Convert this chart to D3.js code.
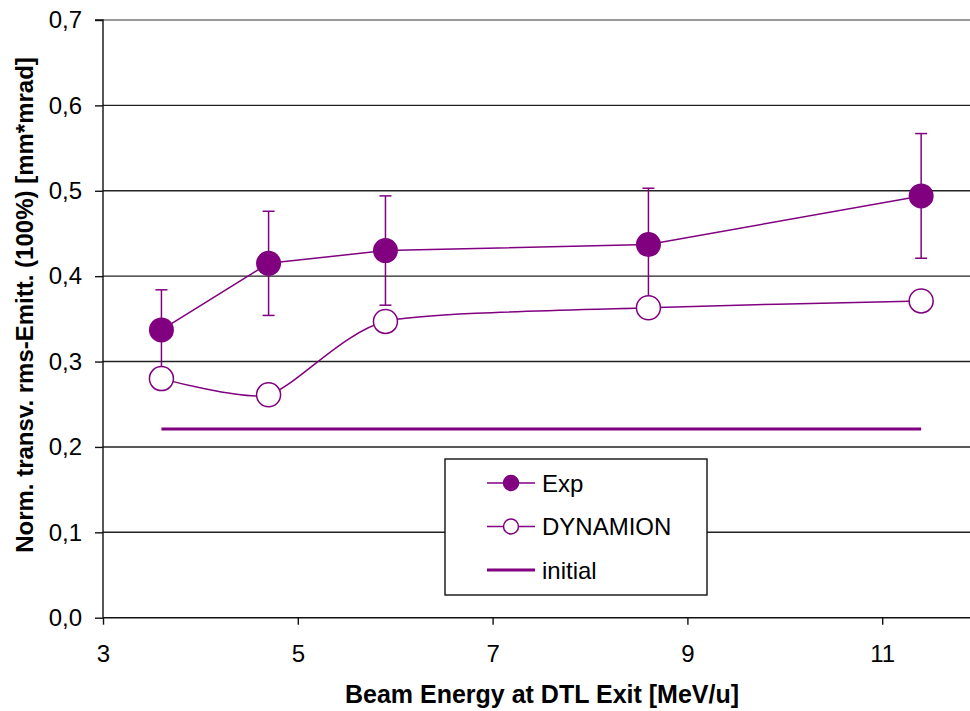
<!DOCTYPE html>
<html>
<head>
<meta charset="utf-8">
<script src="https://d3js.org/d3.v7.min.js"></script>
<style>
  body { margin: 0; background: #fff; }
  svg text { font-family: "Liberation Sans", Arial, sans-serif; }
</style>
</head>
<body>
<svg id="chart" width="970" height="711"></svg>
<script>
// data
const energy = [3.6, 4.7, 5.9, 8.6, 11.4];
const expValues = [0.337, 0.415, 0.430, 0.437, 0.494];
const expErrors = [0.047, 0.061, 0.064, 0.066, 0.073];
const dynamionValues = [0.280, 0.261, 0.347, 0.363, 0.371];
const initialValue = 0.221;
const xTicks = [3, 5, 7, 9, 11];
const yTicks = [0, 0.1, 0.2, 0.3, 0.4, 0.5, 0.6, 0.7];

const purple = '#800080';
const svg = d3.select('#chart');

const x = d3.scaleLinear().domain([3, 12]).range([103, 979.6]);
const y = d3.scaleLinear().domain([0, 0.7]).range([617.7, 20]);

// gridlines
svg.append('g')
   .selectAll('line')
   .data(yTicks.slice(1))
   .enter().append('line')
   .attr('x1', x(3)).attr('x2', 970)
   .attr('y1', d => y(d)).attr('y2', d => y(d))
   .attr('stroke', d => d === 0.7 ? '#777' : '#222')
   .attr('stroke-width', 1.4);

// axes
const yAxis = svg.append('g')
   .attr('transform', `translate(${x(3)},0)`)
   .call(d3.axisLeft(y).tickValues(yTicks).tickSize(8).tickPadding(13)
           .tickFormat(d => d3.format('.1f')(d).replace('.', ',')));
const xAxis = svg.append('g')
   .attr('transform', `translate(0,${y(0)})`)
   .call(d3.axisBottom(x).tickValues(xTicks).tickSize(7).tickPadding(20)
           .tickFormat(d3.format('d')));

[xAxis, yAxis].forEach(a => {
  a.select('.domain').attr('stroke', '#111').attr('stroke-width', 1.4);
  a.selectAll('.tick line').attr('stroke', '#111').attr('stroke-width', 1.4);
  a.selectAll('.tick text')
   .attr('fill', '#000')
   .style('font-family', '"Liberation Sans", Arial, sans-serif')
   .style('font-size', '24px');
});
yAxis.select('.domain').attr('d', `M-8,${y(0.7)}H0V${y(0)}`);
xAxis.select('.domain').attr('d', `M${x(3)},0H970`);

// initial line
svg.append('line')
   .attr('x1', x(energy[0])).attr('x2', x(energy[energy.length - 1]))
   .attr('y1', y(initialValue)).attr('y2', y(initialValue))
   .attr('stroke', purple).attr('stroke-width', 3);

// error bars
const err = svg.append('g').attr('stroke', purple).attr('stroke-width', 1.5);
energy.forEach((e, i) => {
  const top = y(expValues[i] + expErrors[i]);
  const bot = y(expValues[i] - expErrors[i]);
  err.append('line').attr('x1', x(e)).attr('x2', x(e)).attr('y1', top).attr('y2', bot);
  err.append('line').attr('x1', x(e) - 6).attr('x2', x(e) + 6).attr('y1', top).attr('y2', top);
  err.append('line').attr('x1', x(e) - 6).attr('x2', x(e) + 6).attr('y1', bot).attr('y2', bot);
});

// Exp series
const expPts = energy.map((e, i) => [x(e), y(expValues[i])]);
svg.append('path')
   .attr('d', d3.line()(expPts))
   .attr('fill', 'none').attr('stroke', purple).attr('stroke-width', 1.5);
svg.append('g').selectAll('circle')
   .data(expPts).enter().append('circle')
   .attr('cx', d => d[0]).attr('cy', d => d[1]).attr('r', 12.5)
   .attr('fill', purple);

// DYNAMION series (smoothed)
const dynPts = energy.map((e, i) => [x(e), y(dynamionValues[i])]);
svg.append('path')
   .attr('d', d3.line().curve(d3.curveCardinal.tension(0.35))(dynPts))
   .attr('fill', 'none').attr('stroke', purple).attr('stroke-width', 1.5);
svg.append('g').selectAll('circle')
   .data(dynPts).enter().append('circle')
   .attr('cx', d => d[0]).attr('cy', d => d[1]).attr('r', 12)
   .attr('fill', '#fff').attr('stroke', purple).attr('stroke-width', 1.5);

// legend
const lg = svg.append('g').attr('transform', 'translate(445,459)');
lg.append('rect').attr('width', 262).attr('height', 136)
  .attr('fill', '#fff').attr('stroke', '#111').attr('stroke-width', 1.4);
const items = [
  { name: 'Exp', type: 'filled' },
  { name: 'DYNAMION', type: 'hollow' },
  { name: 'initial', type: 'line' }
];
items.forEach((it, i) => {
  const cy = 24 + i * 43.5;
  const row = lg.append('g').attr('transform', `translate(0,${cy})`);
  row.append('line').attr('x1', 42).attr('x2', 90).attr('y1', 0).attr('y2', 0)
     .attr('stroke', purple).attr('stroke-width', it.type === 'line' ? 3 : 1.5);
  if (it.type !== 'line') {
    row.append('circle').attr('cx', 66).attr('cy', 0).attr('r', 7.5)
       .attr('fill', it.type === 'filled' ? purple : '#fff')
       .attr('stroke', purple).attr('stroke-width', 1.5);
  }
  row.append('text').attr('x', 97).attr('y', 8.5)
     .style('font-size', '24px').attr('fill', '#000').text(it.name);
});

// axis titles
svg.append('text')
   .attr('x', 542).attr('y', 703)
   .attr('text-anchor', 'middle')
   .style('font-size', '25px').style('font-weight', 'bold')
   .text('Beam Energy at DTL Exit [MeV/u]');
svg.append('text')
   .attr('transform', 'translate(33,305) rotate(-90)')
   .attr('text-anchor', 'middle')
   .style('font-size', '24px').style('font-weight', 'bold')
   .text('Norm. transv. rms-Emitt. (100%) [mm*mrad]');
</script>
</body>
</html>
